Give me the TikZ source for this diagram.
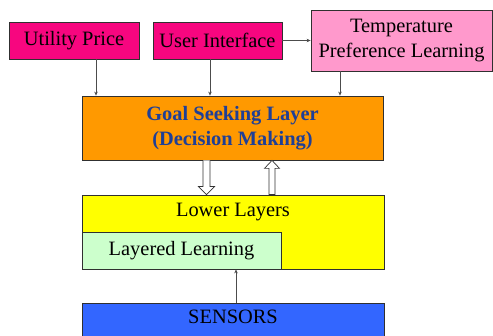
\documentclass[tikz,border=0pt]{standalone}
\usepackage{fontspec}
\setmainfont{Liberation Serif}
\usetikzlibrary{arrows.meta,calc}
\definecolor{mag}{HTML}{F7067F}
\definecolor{pinkbox}{HTML}{FF99CC}
\definecolor{orangebox}{HTML}{FF9900}
\definecolor{yellowbox}{HTML}{FFFF00}
\definecolor{greenbox}{HTML}{CCFFCC}
\definecolor{bluebox}{HTML}{3366FF}
\definecolor{goaltext}{HTML}{1F3F96}
\definecolor{edge}{HTML}{303030}
\begin{document}
\begin{tikzpicture}[x=1pt,y=-1pt,
  box/.style={draw=edge,line width=0.8pt,rectangle,inner sep=0pt,align=center,
    font=\fontsize{20.4}{24.5}\selectfont},
  conn/.style={draw=black!70,line width=0.6pt,-{Stealth[length=4pt,width=3.5pt]}},
  hollow/.style={draw=black!80,line width=0.7pt,fill=white,line join=miter}]
\useasboundingbox (0,0) rectangle (493,336);
\clip (0,0) rectangle (493,336);
\node[box,fill=mag,minimum width=130pt,minimum height=37pt] (util) at (74,40.5) {Utility Price};
\node[box,fill=mag,minimum width=129pt,minimum height=37pt] (ui) at (217.5,40.5) {User Interface};
\node[box,fill=pinkbox,minimum width=181pt,minimum height=61pt] (tpl) at (401.5,40.5) {Temperature\\Preference Learning};
\node[box,fill=orangebox,minimum width=301pt,minimum height=64pt,text=goaltext,font=\fontsize{20.4}{25}\selectfont\bfseries] (goal) at (232.5,128) {Goal Seeking Layer\\(Decision Making)};
\node[box,fill=yellowbox,minimum width=302pt,minimum height=74pt] (lower) at (233,232) {};
\node[font=\fontsize{20.4}{24.5}\selectfont,inner sep=0pt] (lowert) at (233,212) {Lower Layers};
\node[box,fill=greenbox,minimum width=199pt,minimum height=37pt] (ll) at (181.5,250.5) {Layered Learning};
\node[box,fill=bluebox,minimum width=302pt,minimum height=44pt] (sens) at (233,325) {};
\node[font=\fontsize{20.4}{24.5}\selectfont,inner sep=0pt] (senst) at (233,317) {SENSORS};
% thin connectors
\draw[conn] (ui.east) -- (tpl.west |- ui.east);
\draw[conn] (util.south -| 96,0) -- (goal.north -| 96,0);
\draw[conn] (ui.south -| 210,0) -- (goal.north -| 210,0);
\draw[conn] (tpl.south -| 340,0) -- (goal.north -| 340,0);
\draw[conn] (sens.north -| 236,0) -- (ll.south -| 236,0);
% hollow arrows
\coordinate (dtop) at (goal.south -| 206.5,0);
\coordinate (dtip) at (lower.north -| 206.5,0);
\draw[hollow] ($(dtop)+(-3.5,0)$) -- ($(dtip)+(-3.5,-8)$) -- ($(dtip)+(-8,-8)$) -- (dtip)
  -- ($(dtip)+(8,-8)$) -- ($(dtip)+(3.5,-8)$) -- ($(dtop)+(3.5,0)$);
\coordinate (ubot) at (lower.north -| 272,0);
\coordinate (utip) at (goal.south -| 272,0);
\draw[hollow] ($(ubot)+(-3,0)$) -- ($(utip)+(-3,8)$) -- ($(utip)+(-7.5,8)$) -- (utip)
  -- ($(utip)+(7.5,8)$) -- ($(utip)+(3,8)$) -- ($(ubot)+(3,0)$) -- cycle;
\end{tikzpicture}
\end{document}
